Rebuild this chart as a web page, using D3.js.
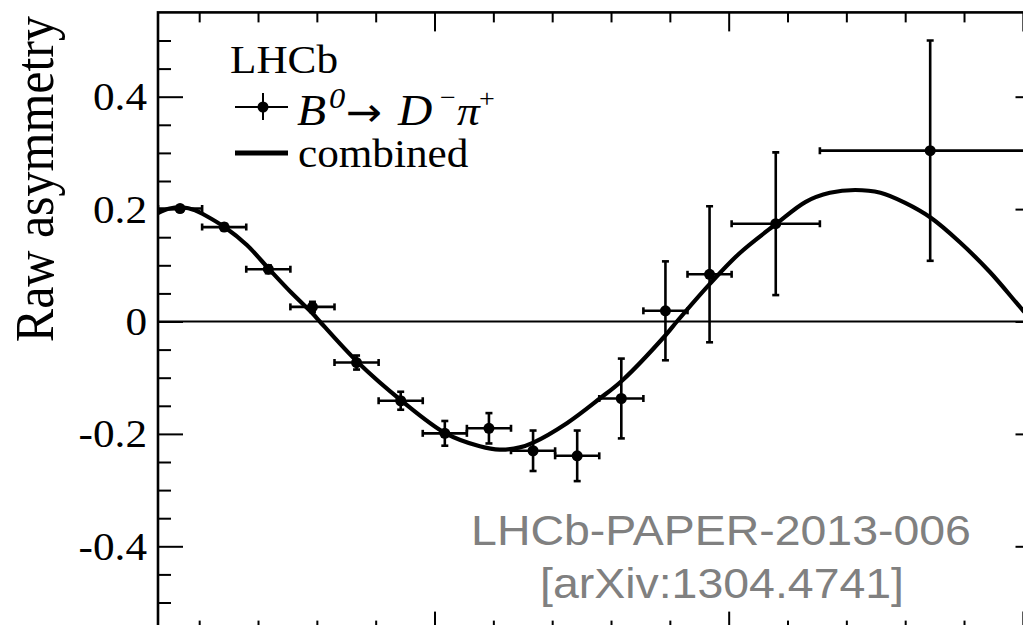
<!DOCTYPE html>
<html>
<head>
<meta charset="utf-8">
<script src="https://cdn.jsdelivr.net/npm/d3@7"></script>
<style>
  html, body { margin: 0; padding: 0; background: #fff; }
  svg { display: block; }
</style>
</head>
<body>
<svg id="chart" width="1023" height="625"></svg>
<script>
// ---------------- data ----------------
const binCenters   = [0.675, 1.425, 2.175, 2.925, 3.675, 4.425, 5.175, 5.925, 6.675, 7.425, 8.175, 8.925, 9.675, 10.8, 13.425];
const binHalfWidth = [0.375, 0.375, 0.375, 0.375, 0.375, 0.375, 0.375, 0.375, 0.375, 0.375, 0.375, 0.375, 0.375, 0.75, 1.875];
const asymValues   = [0.201, 0.168, 0.093, 0.026, -0.073, -0.141, -0.199, -0.190, -0.230, -0.239, -0.137, 0.019, 0.084, 0.174, 0.304];
const asymErrors   = [0.005, 0.006, 0.007, 0.009, 0.0125, 0.016, 0.022, 0.027, 0.036, 0.045, 0.071, 0.088, 0.121, 0.127, 0.196];

// combined fit curve
const fitT = [0.3, 0.5, 0.71, 0.93, 1.1, 1.43, 1.81, 2.19, 2.56, 2.94, 3.05, 3.70, 4.44, 5.19, 5.77, 6.11, 6.45, 6.67, 7.25, 7.81, 8.20, 8.93, 9.12, 9.68, 10.19, 10.80, 11.31, 11.72, 12.15, 12.58, 13.00, 13.43, 13.93, 14.44, 15.0, 15.3];
const fitV = [0.193, 0.201, 0.203, 0.198, 0.189, 0.168, 0.136, 0.093, 0.052, 0.013, 0.0, -0.073, -0.141, -0.199, -0.222, -0.228, -0.224, -0.216, -0.181, -0.137, -0.104, -0.024, 0.0, 0.067, 0.122, 0.173, 0.213, 0.229, 0.234, 0.229, 0.211, 0.185, 0.141, 0.088, 0.020, -0.014];

const yTickValues = [-0.4, -0.2, 0, 0.2, 0.4];
const yTickLabels = ["-0.4", "-0.2", "0", "0.2", "0.4"];
const yMinorTicks = d3.range(-10, 11).map(i => i * 0.05);
const xMajorTicks = [5, 10, 15];
const xMinorTicks = d3.range(1, 16);

const yTitle = "Raw asymmetry";
const watermark1 = "LHCb-PAPER-2013-006";
const watermark2 = "[arXiv:1304.4741]";

// ---------------- layout ----------------
const svg = d3.select("#chart");
const L = 158, R = 1040.5, T = 12.4, B = 630.6;
const SX = 1.08; // horizontal stretch of the original picture
const serif = "'Liberation Serif', 'Times New Roman', Times, serif";
const sans = "'Liberation Sans', Arial, Helvetica, sans-serif";

const x = d3.scaleLinear().domain([0.3, 15.3]).range([L, R]);
const y = d3.scaleLinear().domain([-0.55, 0.55]).range([B, T]);

svg.append("defs").append("clipPath").attr("id", "plotclip")
  .append("rect").attr("x", L).attr("y", T).attr("width", R - L).attr("height", B - T);

// ---------------- axes / ticks ----------------
function tickAxis(gen, tx, ty) {
  const g = svg.append("g").attr("transform", `translate(${tx},${ty})`).call(gen);
  g.select(".domain").remove();
  g.selectAll("text").remove();
  g.selectAll("line").attr("stroke", "#000").attr("stroke-width", 2);
  return g;
}
const isMajorY = v => yTickValues.some(m => Math.abs(m - v) < 1e-9);
const yMinorOnly = yMinorTicks.filter(v => !isMajorY(v));
const xMinorOnly = xMinorTicks.filter(v => !xMajorTicks.includes(v));

tickAxis(d3.axisRight(y).tickValues(yMinorOnly).tickSize(13), L, 0);
tickAxis(d3.axisRight(y).tickValues(yTickValues).tickSize(25), L, 0);
tickAxis(d3.axisLeft(y).tickValues(yMinorOnly).tickSize(13), R, 0);
tickAxis(d3.axisLeft(y).tickValues(yTickValues).tickSize(25), R, 0);
tickAxis(d3.axisBottom(x).tickValues(xMinorOnly).tickSize(10), 0, T);
tickAxis(d3.axisBottom(x).tickValues(xMajorTicks).tickSize(19), 0, T);
tickAxis(d3.axisTop(x).tickValues(xMinorOnly).tickSize(10), 0, B);
tickAxis(d3.axisTop(x).tickValues(xMajorTicks).tickSize(19), 0, B);

// frame
svg.append("rect").attr("x", L).attr("y", T).attr("width", R - L).attr("height", B - T)
  .attr("fill", "none").attr("stroke", "#000").attr("stroke-width", 2.6);

// y tick labels
svg.selectAll("text.ylab").data(yTickValues).enter().append("text")
  .attr("class", "ylab")
  .attr("transform", (d) => `translate(147,${y(d) + 13.5}) scale(${SX},1)`)
  .attr("text-anchor", "end")
  .attr("font-family", serif).attr("font-size", 40).attr("fill", "#000")
  .text((d, i) => yTickLabels[i]);

// y title
svg.append("text")
  .attr("transform", `translate(53,16) scale(${SX},1) rotate(-90)`)
  .attr("text-anchor", "end")
  .attr("font-family", serif).attr("font-size", 50).attr("fill", "#000")
  .text(yTitle);

// watermark
svg.append("text")
  .attr("transform", `translate(721,545) scale(${SX},1)`)
  .attr("text-anchor", "middle")
  .attr("font-family", sans).attr("font-size", 43).attr("fill", "#808080")
  .text(watermark1);
svg.append("text")
  .attr("transform", `translate(722,598) scale(${SX},1)`)
  .attr("text-anchor", "middle")
  .attr("font-family", sans).attr("font-size", 43).attr("fill", "#808080")
  .text(watermark2);

// ---------------- plot content ----------------
const plot = svg.append("g").attr("clip-path", "url(#plotclip)");

// zero line
plot.append("line")
  .attr("x1", x(0.3)).attr("x2", x(15.3)).attr("y1", y(0)).attr("y2", y(0))
  .attr("stroke", "#000").attr("stroke-width", 2);

// fit curve
const fitData = fitT.map((t, i) => [t, fitV[i]]);
plot.append("path")
  .datum(fitData)
  .attr("fill", "none").attr("stroke", "#000").attr("stroke-width", 4.2)
  .attr("stroke-linejoin", "round")
  .attr("d", d3.line().x(d => x(d[0])).y(d => y(d[1])).curve(d3.curveCatmullRom.alpha(0.5)));

// data points with error bars
const pts = binCenters.map((c, i) => ({ c, hw: binHalfWidth[i], v: asymValues[i], e: asymErrors[i] }));
const cap = 3.5;
const pg = plot.selectAll("g.pt").data(pts).enter().append("g").attr("class", "pt");
pg.append("line")
  .attr("x1", d => x(d.c - d.hw)).attr("x2", d => x(d.c + d.hw))
  .attr("y1", d => y(d.v)).attr("y2", d => y(d.v))
  .attr("stroke", "#000").attr("stroke-width", 2.6);
pg.append("line")
  .attr("x1", d => x(d.c)).attr("x2", d => x(d.c))
  .attr("y1", d => y(d.v - d.e)).attr("y2", d => y(d.v + d.e))
  .attr("stroke", "#000").attr("stroke-width", 2.6);
// caps
pg.append("line")
  .attr("x1", d => x(d.c - d.hw)).attr("x2", d => x(d.c - d.hw))
  .attr("y1", d => y(d.v) - cap).attr("y2", d => y(d.v) + cap)
  .attr("stroke", "#000").attr("stroke-width", 2.6);
pg.append("line")
  .attr("x1", d => x(d.c + d.hw)).attr("x2", d => x(d.c + d.hw))
  .attr("y1", d => y(d.v) - cap).attr("y2", d => y(d.v) + cap)
  .attr("stroke", "#000").attr("stroke-width", 2.6);
pg.append("line")
  .attr("x1", d => x(d.c) - cap).attr("x2", d => x(d.c) + cap)
  .attr("y1", d => y(d.v + d.e)).attr("y2", d => y(d.v + d.e))
  .attr("stroke", "#000").attr("stroke-width", 2.6);
pg.append("line")
  .attr("x1", d => x(d.c) - cap).attr("x2", d => x(d.c) + cap)
  .attr("y1", d => y(d.v - d.e)).attr("y2", d => y(d.v - d.e))
  .attr("stroke", "#000").attr("stroke-width", 2.6);
pg.append("circle")
  .attr("cx", d => x(d.c)).attr("cy", d => y(d.v)).attr("r", 5.5)
  .attr("fill", "#000");

// ---------------- legend ----------------
function stext(tx, ty, str, size, opts = {}) {
  return svg.append("text")
    .attr("transform", `translate(${tx},${ty}) scale(${SX},1)`)
    .attr("font-family", opts.family || serif)
    .attr("font-size", size)
    .attr("font-style", opts.italic ? "italic" : "normal")
    .attr("fill", "#000")
    .text(str);
}
stext(230, 73, "LHCb", 40);

// marker symbol
svg.append("line").attr("x1", 235).attr("x2", 288).attr("y1", 107).attr("y2", 107)
  .attr("stroke", "#000").attr("stroke-width", 2);
svg.append("line").attr("x1", 263).attr("x2", 263).attr("y1", 93).attr("y2", 120)
  .attr("stroke", "#000").attr("stroke-width", 2);
svg.append("circle").attr("cx", 263).attr("cy", 107).attr("r", 5.5).attr("fill", "#000");

stext(297, 125, "B", 44, { italic: true });
stext(329, 108, "0", 30, { italic: true });
stext(346, 126, "\u2192", 40, { family: "'DejaVu Sans', sans-serif" });
stext(398, 125, "D", 44, { italic: true });
stext(440, 106, "\u2212", 26);
stext(457, 125, "\u03C0", 42, { italic: true });
stext(479, 107, "+", 26);

svg.append("line").attr("x1", 235).attr("x2", 288).attr("y1", 153).attr("y2", 153)
  .attr("stroke", "#000").attr("stroke-width", 5);
stext(298, 167, "combined", 40);
</script>
</body>
</html>
